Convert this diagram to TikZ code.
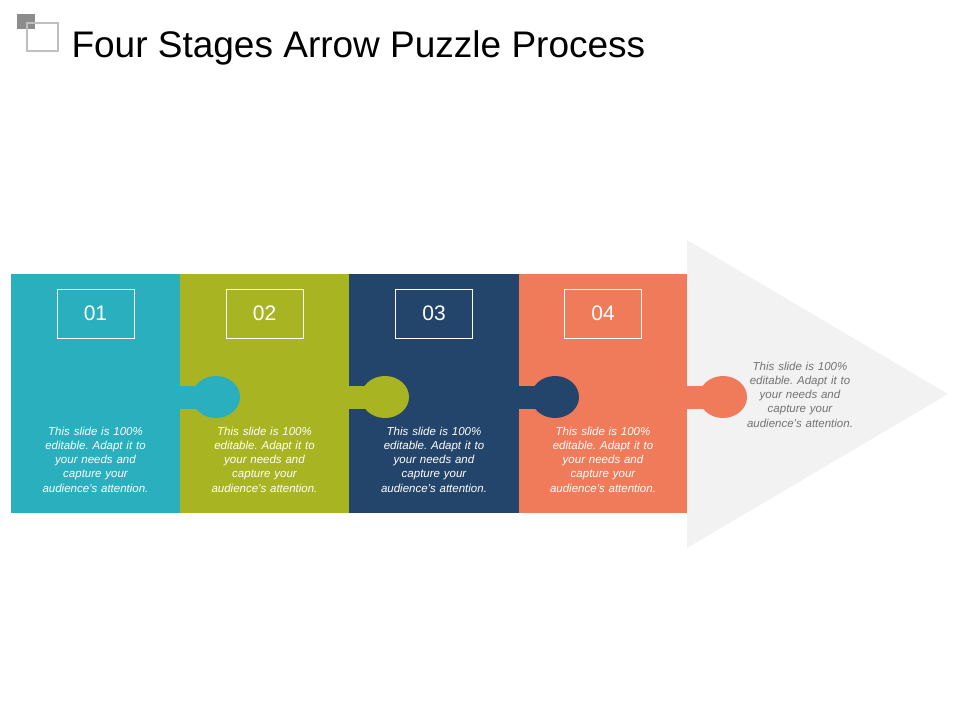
\documentclass[tikz,border=0pt]{standalone}
\usepackage{fontspec}
\setmainfont{Liberation Sans}
\frenchspacing
\definecolor{cA}{HTML}{2AAFBF}
\definecolor{cB}{HTML}{A9B423}
\definecolor{cC}{HTML}{24456B}
\definecolor{cD}{HTML}{F07B5A}
\definecolor{cG}{HTML}{F2F2F2}
\begin{document}
\begin{tikzpicture}[x=1pt,y=-1pt,
  numbox/.style={draw=white,line width=0.8pt,minimum width=77pt,minimum height=49pt,text=white,font=\fontsize{21}{21}\selectfont},
  body/.style={text=white,align=center,font=\fontsize{11.5}{14.3}\selectfont\itshape,text width=130pt}]
\useasboundingbox (0,0) rectangle (960,720);
\fill[gray!90] (17,14) rectangle (35,29);
\draw[gray!50,line width=2.5pt] (27,23) rectangle (58,51);
\node[anchor=base west,font=\fontsize{37}{37}\selectfont] (title) at (68,57) {Four Stages Arrow Puzzle Process};
\fill[cG] (687,240) -- (948,394) -- (687,548) -- cycle;
\foreach \i/\c/\n [count=\k] in {11/cA/01,180/cB/02,349/cC/03,519/cD/04}{
  \pgfmathsetmacro{\w}{\k==4 ? 168 : (\k==1 ? 169 : 170)}
  \fill[\c] (\i,274) rectangle ++(\w,239);
}
\foreach \b/\c in {180/cA,349/cB,519/cC,687/cD}{
  \fill[\c] (\b-2,386) rectangle (\b+20,409);
  \fill[\c] (\b+36,397) ellipse (24 and 21);
}
\foreach \x/\n in {95.5/01,264.5/02,434/03,603/04}{
  \node[numbox] (n\n) at (\x,313.5) {\n};
  \node[body] (t\n) at (\x,459.5) {This slide is 100\%\\ editable. Adapt it to\\ your needs and\\ capture your\\ audience's attention.};
}
\node[body,text=gray!90!black] (t05) at (800,394.5) {This slide is 100\%\\ editable. Adapt it to\\ your needs and\\ capture your\\ audience's attention.};
\end{tikzpicture}
\end{document}
